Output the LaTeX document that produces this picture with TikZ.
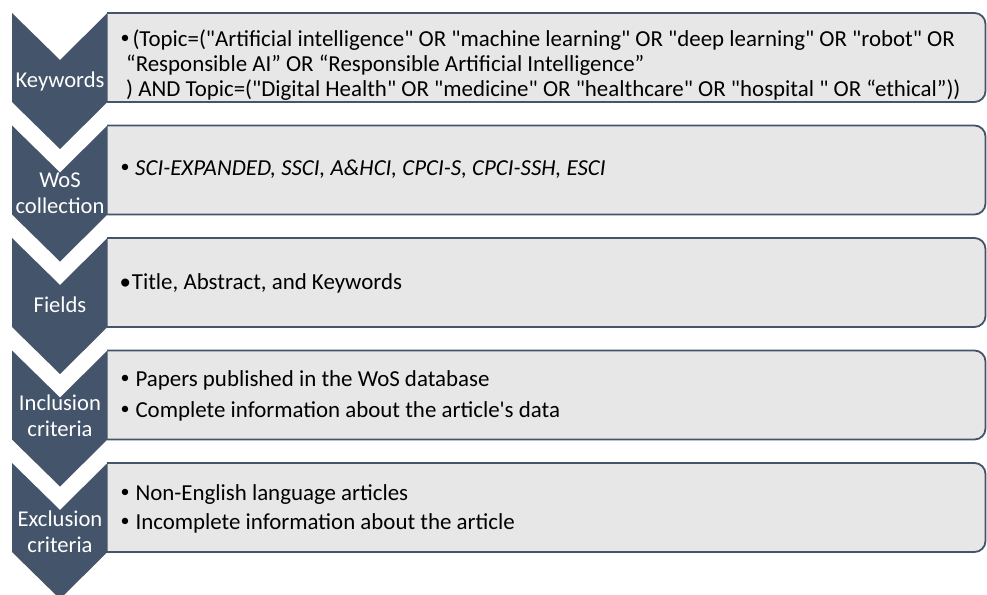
\documentclass[tikz,border=0pt]{standalone}
\usepackage{fontspec}
\setmainfont{Carlito}[Ligatures=TeXOff]
\definecolor{chev}{HTML}{44546A}
\definecolor{boxfill}{HTML}{E7E7E7}
\newcommand{\smbul}[1]{\makebox[#1][l]{\raisebox{2.9pt}{\fontsize{18}{18}\selectfont •}}}
\tikzset{
  chevron/.style={fill=chev},
  panel/.style={fill=boxfill, draw=chev, line width=1.8pt, rounded corners=11pt},
  ltext/.style={text=white, font=\fontsize{22.6}{24.5}\selectfont, inner sep=0pt, anchor=base},
  btext/.style={text=black, font=\fontsize{22.9}{24.5}\selectfont, inner sep=0pt, anchor=base west},
}
\begin{document}
\begin{tikzpicture}[x=1pt,y=-1pt]
\useasboundingbox (0,0) rectangle (987,594);
\foreach \t in {13,125.5,238,350.5,463}{
  \begin{scope}
    \clip (107,\t-3) rectangle (990,\t+92);
    \path[panel] (90,\t) rectangle (985.5,\t+89);
  \end{scope}
  \fill[chevron] (12,\t) -- (60,\t+47) -- (107.5,\t) -- (107.5,\t+89) -- (60,\t+136) -- (12,\t+89) -- cycle;
}
% chevron labels
\node[ltext] (k1) at (60,87.5) {Keywords};
\node[ltext] (k2a) at (60,187) {WoS};
\node[ltext] (k2b) at (60,213) {collection};
\node[ltext] (k3) at (60,312.5) {Fields};
\node[ltext] (k4a) at (60,410) {Inclusion};
\node[ltext] (k4b) at (60,436) {criteria};
\node[ltext] (k5a) at (60,526) {Exclusion};
\node[ltext] (k5b) at (60,552) {criteria};
% box texts
\node[btext] (b1a) at (120.5,46.7) {\smbul{11.8pt}(Topic=("Artificial intelligence" OR "machine learning" OR "deep learning" OR "robot" OR};
\node[btext] (b1b) at (126,71.5) {“Responsible AI” OR “Responsible Artificial Intelligence”};
\node[btext] (b1c) at (126,96) {) AND Topic=("Digital Health" OR "medicine" OR "healthcare" OR "hospital " OR “ethical”))};
\node[btext] (b2) at (120.5,175) {\smbul{14.5pt}\textit{SCI-EXPANDED, SSCI, A\&HCI, CPCI-S, CPCI-SSH, ESCI}};
\node[btext] (b3) at (119.5,289) {\makebox[12.2pt][l]{•}Title, Abstract, and Keywords};
\node[btext] (b4a) at (120.5,386.5) {\smbul{14.8pt}Papers published in the WoS database};
\node[btext] (b4b) at (120.5,417.5) {\smbul{14.8pt}Complete information about the article's data};
\node[btext] (b5a) at (120.5,500) {\smbul{14.8pt}Non-English language articles};
\node[btext] (b5b) at (120.5,529) {\smbul{14.8pt}Incomplete information about the article};
\end{tikzpicture}
\end{document}
